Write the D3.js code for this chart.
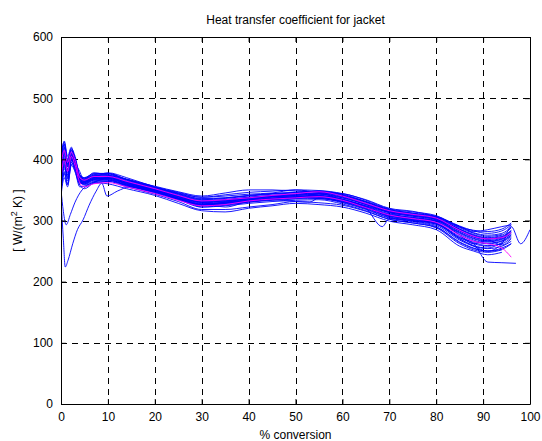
<!DOCTYPE html>
<html>
<head>
<meta charset="utf-8">
<script src="https://cdn.jsdelivr.net/npm/d3@7"></script>
<style>
	body { margin: 0; background: #fff; }
	svg { font-family: "Liberation Sans", Arial, sans-serif; }
</style>
</head>
<body>
<svg id="plot" width="542" height="441"></svg>
<script>
const TITLE = 'Heat transfer coefficient for jacket';
const X_TICKS = [0, 10, 20, 30, 40, 50, 60, 70, 80, 90, 100];
const Y_TICKS = [0, 100, 200, 300, 400, 500, 600];

const CONV = [0, 0.7, 1.4, 2.2, 3, 4, 5, 7, 10, 14, 20, 25, 30, 35, 40, 45, 50, 55, 60, 65, 70, 75, 80, 85, 88, 91, 94, 96];

// blue batches (values at CONV)
const BATCHES = [
	[395,425,392,415,400,372,368,374,374,365,352,342,333,334,338,341,343,345,340,328,315,309,303,285,275,270,272,282],
	[370,400,380,408,392,366,362,368,369,360,348,337,327,329,333,336,338,340,334,322,309,304,298,277,266,262,266,276],
	[360,390,375,402,388,364,360,366,366,358,347,336,326,328,332,335,337,338,331,320,307,301,295,272,262,258,262],
	[410,428,400,418,405,375,370,376,377,367,354,344,336,337,341,344,346,348,343,331,318,312,306,290,280,276,279,290],
	[345,380,360,395,385,362,364,370,371,362,349,339,330,332,336,339,341,343,337,326,313,307,301,281,271,266,270,280],
	[385,415,395,412,398,369,366,372,372,363,351,340,331,333,337,340,342,344,338,327,314,308,302,283,273,267,271],
	[400,420,388,405,392,368,363,369,370,361,350,339,329,331,335,338,340,341,335,323,310,305,299,279,268,263,267,277],
	[355,385,370,400,390,366,361,367,368,359,347,336,325,327,331,334,336,337,330,319,305,299,292,268,258,254,258,266],
	[375,405,382,410,396,370,367,373,373,364,352,341,332,334,338,341,343,345,339,328,315,309,304,286,277,272,276,288],
	[390,418,398,414,401,373,369,375,376,366,353,343,334,336,340,343,345,347,341,330,317,311,305,288,279,274,277],
	[340,370,355,392,384,360,362,368,367,358,346,335,324,326,330,333,335,336,329,318,304,298,290,265,255,250,255,262],
	[380,410,390,407,394,367,364,371,371,362,350,338,328,330,334,337,339,341,335,324,311,305,300,280,270,265,269,279],
	[365,395,378,404,391,365,362,368,369,360,348,337,327,329,333,336,338,339,333,321,308,302,296,274,264,259,262,272],
	[405,424,396,416,402,374,370,377,377,367,354,344,335,337,341,344,346,348,342,331,318,312,307,291,283,279,283,293],
	[350,378,365,398,387,363,360,366,366,357,345,334,322,324,328,331,333,334,327,316,302,296,288,262,252,248,252],
	[395,412,392,409,395,368,365,371,372,363,351,340,330,332,336,339,341,343,337,326,313,307,302,283,273,269,273,283],
	[380,408,388,406,394,368,366,373,375,367,356,347,340,345,350,350,348,347,341,330,316,310,304,286,276,271,274,284],
	[360,388,372,400,388,363,359,364,364,355,343,331,318,318,322,326,331,329,325,315,302,296,289,264,254,250,253,262],
	[372,398,368,396,380,358,352,362,368,356,350,336,330,322,332,340,336,344,334,324,313,302,300,276,262,268,260,270],
	[398,430,405,420,396,380,364,370,378,370,355,345,338,340,343,345,350,346,344,333,319,314,308,289,284,282,286,296],
	[352,376,358,390,380,355,356,362,360,352,341,328,316,314,320,324,328,326,322,312,299,293,285,258,250,244,248],
	[386,402,384,398,392,372,368,378,374,368,355,346,338,342,346,348,350,349,344,334,320,315,306,290,282,285,290,293],
	[368,392,374,403,389,365,358,363,370,360,349,334,325,330,335,334,339,336,331,322,306,300,294,270,259,255,264,274]
];

// magenta batches (values at CONV)
const REF_BATCHES = [
	[370,400,380,405,390,362,355,360,362,355,344,333,324,326,332,335,337,339,333,321,309,303,297,276,266,262,255,240],
	[390,415,395,412,398,370,366,372,372,364,352,341,332,334,337,341,344,347,340,328,316,310,304,284,274,270,272,280]
];

// two batches with a deep start-up dip, read on their own x points
const DIP1_CONV = [0, 0.5, 0.9, 1.5, 2.5, 3.5, 4.7, 6, 7.5, 8.7, 9.8, 12, 14.7, 18, 22, 27, 30, 35, 40, 45, 50, 53, 55, 60, 65, 70, 75, 80, 85, 88, 91, 94, 97];
const DIP1_VAL  = [335, 270, 224, 235, 262, 285, 301, 325, 348, 361, 340, 348, 355, 350, 343, 330, 322, 325, 330, 334, 331, 330, 337, 332, 321, 308, 302, 296, 272, 262, 232, 231, 230];
const DIP2_CONV = [0, 0.5, 1.1, 2, 3, 4.5, 6, 8, 10, 14, 20, 25, 30, 35, 40, 45, 50, 55, 60, 65, 68.5, 70, 75, 80, 85, 88, 91, 94, 96, 98, 100];
const DIP2_VAL  = [350, 315, 293, 310, 330, 350, 358, 362, 364, 358, 347, 336, 326, 328, 333, 336, 338, 340, 333, 320, 290, 303, 300, 294, 270, 258, 250, 262, 290, 262, 285];

const MARGIN = { top: 37, right: 12, bottom: 37, left: 61 };
const W = 542, H = 441;

const svg = d3.select('#plot');
const iw = W - MARGIN.left - MARGIN.right;
const ih = H - MARGIN.top - MARGIN.bottom;

const x = d3.scaleLinear().domain([0, 100]).range([0, iw]);
const y = d3.scaleLinear().domain([0, 600]).range([ih, 0]);

const g = svg.append('g').attr('transform', `translate(${MARGIN.left},${MARGIN.top})`);

svg.append('defs').append('clipPath').attr('id', 'clip')
	.append('rect').attr('width', iw).attr('height', ih);

// dashed grid
g.append('g')
	.selectAll('line')
	.data(X_TICKS.slice(1, -1))
	.enter().append('line')
		.attr('x1', d => Math.round(x(d)) + 0.5)
		.attr('x2', d => Math.round(x(d)) + 0.5)
		.attr('y1', 0).attr('y2', ih)
		.attr('stroke', '#000').attr('stroke-dasharray', '6,5');
g.append('g')
	.selectAll('line')
	.data(Y_TICKS.slice(1, -1))
	.enter().append('line')
		.attr('y1', d => Math.round(y(d)) + 0.5)
		.attr('y2', d => Math.round(y(d)) + 0.5)
		.attr('x1', 0).attr('x2', iw)
		.attr('stroke', '#000').attr('stroke-dasharray', '6,5');

const line = d3.line()
	.x(d => x(d[0]))
	.y(d => y(d[1]))
	.curve(d3.curveMonotoneX);

const curves = g.append('g').attr('clip-path', 'url(#clip)');

BATCHES.forEach(vals => {
	curves.append('path')
		.datum(vals.map((v, i) => [CONV[i], v]))
		.attr('d', line)
		.attr('fill', 'none').attr('stroke', '#0000ff').attr('stroke-width', 0.9);
});
[[DIP1_CONV, DIP1_VAL], [DIP2_CONV, DIP2_VAL]].forEach(([cx, cv]) => {
	curves.append('path')
		.datum(cv.map((v, i) => [cx[i], v]))
		.attr('d', line)
		.attr('fill', 'none').attr('stroke', '#0000ff').attr('stroke-width', 0.9);
});
REF_BATCHES.forEach(vals => {
	curves.append('path')
		.datum(vals.map((v, i) => [CONV[i], v]))
		.attr('d', line)
		.attr('fill', 'none').attr('stroke', '#ff00ff').attr('stroke-width', 0.9);
});

// axes, MATLAB style: ticks inside on all four sides
const xb = d3.axisBottom(x).tickValues(X_TICKS).tickSizeInner(-5).tickSizeOuter(0).tickPadding(8);
const xt = d3.axisTop(x).tickValues(X_TICKS).tickSizeInner(-5).tickSizeOuter(0).tickFormat('');
const yl = d3.axisLeft(y).tickValues(Y_TICKS).tickSizeInner(-5).tickSizeOuter(0).tickPadding(8);
const yr = d3.axisRight(y).tickValues(Y_TICKS).tickSizeInner(-5).tickSizeOuter(0).tickFormat('');

g.append('g').attr('transform', `translate(0,${ih})`).call(xb);
g.append('g').call(xt);
g.append('g').call(yl);
g.append('g').attr('transform', `translate(${iw},0)`).call(yr);

g.selectAll('.tick text').attr('font-size', 12).attr('fill', '#000').attr('font-family', '"Liberation Sans", Arial, sans-serif');
g.selectAll('.domain, .tick line').attr('stroke', '#000');

svg.append('text')
	.attr('x', MARGIN.left + iw / 2).attr('y', 24)
	.attr('text-anchor', 'middle').attr('font-size', 12)
	.text(TITLE);

svg.append('text')
	.attr('x', MARGIN.left + iw / 2).attr('y', 439)
	.attr('text-anchor', 'middle').attr('font-size', 12)
	.text('% conversion');

const yLab = svg.append('text')
	.attr('transform', `translate(22,${MARGIN.top + ih / 2}) rotate(-90)`)
	.attr('text-anchor', 'middle').attr('font-size', 12);
yLab.append('tspan').text('[ W/(m');
yLab.append('tspan').attr('baseline-shift', 'super').attr('font-size', 9).text('2');
yLab.append('tspan').text(' K) ]');
</script>
</body>
</html>
